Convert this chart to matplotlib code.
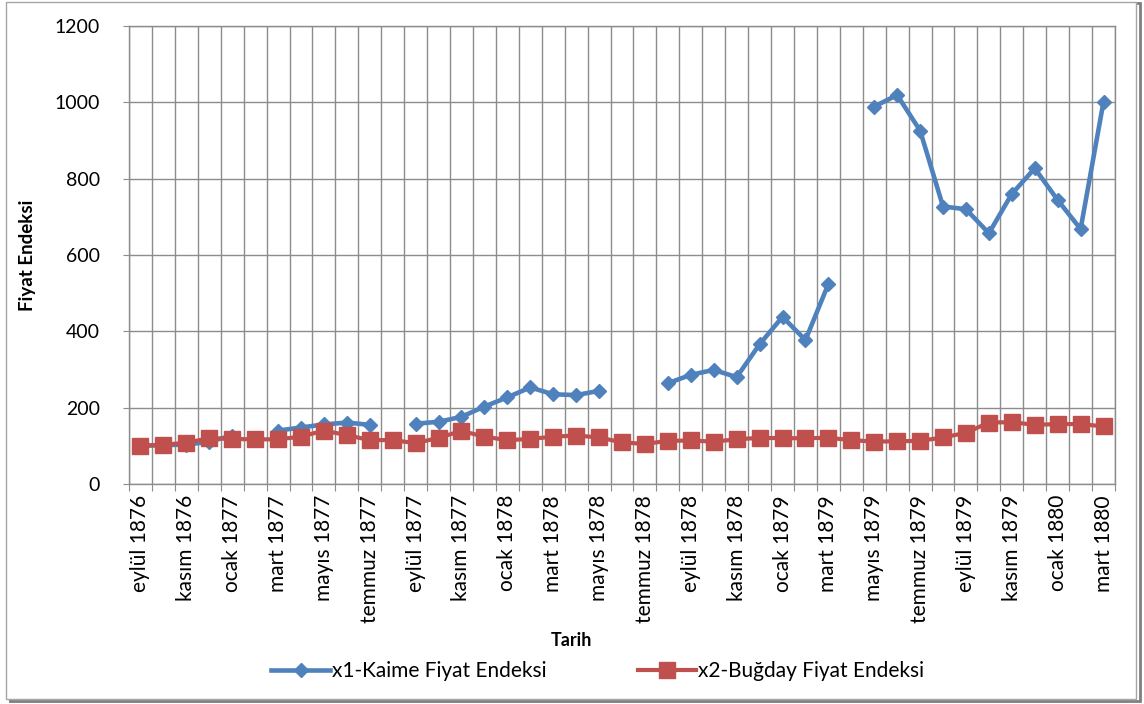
import numpy as np
import matplotlib
matplotlib.use("Agg")
import matplotlib.pyplot as plt
from matplotlib.patches import Rectangle

plt.rcParams["font.family"] = ["Lato", "DejaVu Sans"]

# monthly data, eylül 1876 .. mart 1880 (nan = no value)
n_months = 43
kaime = [100, 102, 103, 111, 127, np.nan, 140, 148, 156, 161, 155, np.nan,
         158, 163, 176, 203, 227, 253, 235, 233, 244, np.nan, np.nan, 264,
         286, 299, 280, 366, 438, 377, 524, np.nan, 989, 1019, 926, 727,
         720, 657, 760, 827, 744, 668, 1002]
bugday = [100, 103, 108, 120, 118, 117, 117, 124, 140, 128, 115, 115,
          107, 121, 139, 124, 115, 118, 124, 127, 122, 109, 105, 113,
          114, 111, 117, 121, 120, 120, 121, 115, 111, 112, 113, 122,
          134, 161, 162, 155, 157, 157, 151]
tick_labels = ["eylül 1876", "kasım 1876", "ocak 1877", "mart 1877",
               "mayıs 1877", "temmuz 1877", "eylül 1877", "kasım 1877",
               "ocak 1878", "mart 1878", "mayıs 1878", "temmuz 1878",
               "eylül 1878", "kasım 1878", "ocak 1879", "mart 1879",
               "mayıs 1879", "temmuz 1879", "eylül 1879", "kasım 1879",
               "ocak 1880", "mart 1880"]

BLUE = "#4F81BD"
RED = "#C0504D"
GRID = "#8C8C8C"

fig = plt.figure(figsize=(11.44, 7.04), dpi=100)

# chart area border with a little shadow
fig.patches.append(Rectangle((0.0085, 0.0045), 0.988, 0.991, transform=fig.transFigure,
                             fill=False, edgecolor="#7F7F7F", linewidth=2.0, zorder=-2))
fig.patches.append(Rectangle((0.005, 0.0075), 0.988, 0.989, transform=fig.transFigure,
                             facecolor="white", edgecolor="#A6A6A6", linewidth=1.0, zorder=-1))

ax = fig.add_axes([129 / 1144, 1 - 484 / 704, (1115 - 129) / 1144, (484 - 26) / 704])
ax.set_zorder(1)

x = np.arange(n_months)
ax.plot(x, kaime, color=BLUE, linewidth=3.3, marker="D", markersize=7.5,
        markeredgecolor=BLUE, label="x1-Kaime Fiyat Endeksi", zorder=3)
ax.plot(x, bugday, color=RED, linewidth=3.0, marker="s", markersize=11.5,
        markeredgecolor=RED, label="x2-Buğday Fiyat Endeksi", zorder=4)

ax.set_xlim(-0.5, n_months - 0.5)
ax.set_ylim(0, 1200)
ax.set_yticks(range(0, 1201, 200))

# category boundaries carry the grid, labels sit at every second month
ax.set_xticks(np.arange(-0.5, n_months, 1.0))
ax.set_xticklabels([])
ax.set_xticks(np.arange(0, n_months, 2), minor=True)
ax.set_xticklabels(tick_labels, minor=True, rotation=90, fontsize=15)
ax.tick_params(axis="x", which="major", length=5, color=GRID, direction="out")
ax.tick_params(axis="x", which="minor", length=0, pad=8)
ax.tick_params(axis="y", length=4, color=GRID, pad=17, labelsize=14)

ax.grid(True, which="major", color=GRID, linewidth=1.0)
ax.set_axisbelow(True)
for s in ax.spines.values():
    s.set_color(GRID)
    s.set_linewidth(1.0)

fig.text(28 / 1144, 1 - 255 / 704, "Fiyat Endeksi", rotation=90, ha="center",
         va="center", fontsize=13.5, fontweight="bold")
fig.text(571 / 1144, 1 - 640 / 704, "Tarih", ha="center", va="center",
         fontsize=13, fontweight="bold")

fig.legend(loc="center", bbox_to_anchor=(598 / 1144, 1 - 671 / 704), ncol=2,
           frameon=False, fontsize=15, handlelength=2.8, columnspacing=4.4,
           handletextpad=0.1)

fig.savefig("out.png", dpi=100)
